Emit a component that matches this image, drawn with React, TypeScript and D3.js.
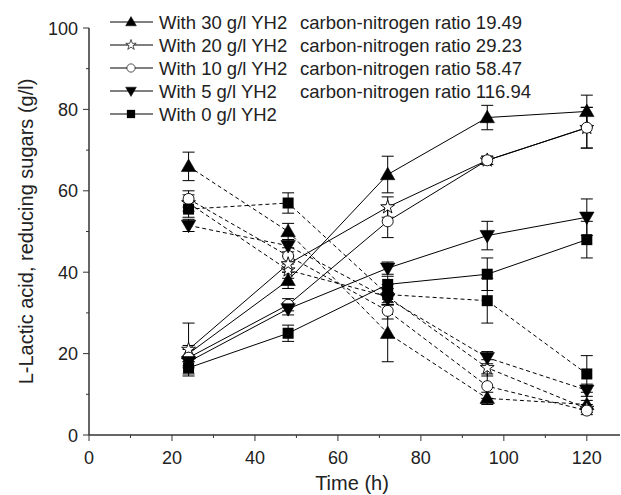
import React from "react";
import * as d3 from "d3";

const times = [24, 48, 72, 96, 120];
const seriesNames = [
  "With 30 g/l YH2",
  "With 20 g/l YH2",
  "With 10 g/l YH2",
  "With 5 g/l YH2",
  "With 0 g/l YH2",
];
const ratioLabels = [
  "carbon-nitrogen ratio 19.49",
  "carbon-nitrogen ratio 29.23",
  "carbon-nitrogen ratio 58.47",
  "carbon-nitrogen ratio 116.94",
  "",
];
const markerTypes = ["triUp", "star", "circle", "triDown", "square"];

// L-lactic acid (solid lines)
const lactic30 = [20, 38, 64, 78, 79.5];
const lactic20 = [21, 42, 56, 67.5, 75.5];
const lactic10 = [19, 32, 52.5, 67.5, 75.5];
const lactic5 = [18, 31, 41, 49, 53.5];
const lactic0 = [16.5, 25, 37, 39.5, 48];
const lacticErr30 = [2, 2, 4.5, 3, 4];
const lacticErr20 = [6.5, 2, 2.5, 1, 5];
const lacticErr10 = [2, 1.5, 4, 1, 5];
const lacticErr5 = [1.5, 1.5, 1.5, 3.5, 4.5];
const lacticErr0 = [1.5, 2, 2, 4, 4.5];

// Reducing sugars (dashed lines)
const sugar30 = [66, 50, 25, 9, 7.5];
const sugar20 = [57, 40.5, 34, 16.5, 6.5];
const sugar10 = [58, 44, 30.5, 12, 6];
const sugar5 = [51.5, 46.5, 33.5, 19, 11];
const sugar0 = [55.5, 57, 34.5, 33, 15];
const sugarErr30 = [3.5, 2, 7, 1.5, 1];
const sugarErr20 = [2, 2, 2, 2, 1];
const sugarErr10 = [2, 2, 2, 3, 1];
const sugarErr5 = [1.5, 1.5, 1.5, 1.5, 1.5];
const sugarErr0 = [2, 2.5, 2.5, 5.5, 4.5];

const xTicks = [0, 20, 40, 60, 80, 100, 120];
const yTicks = [0, 20, 40, 60, 80, 100];

const lacticAll = [lactic30, lactic20, lactic10, lactic5, lactic0];
const lacticErrAll = [lacticErr30, lacticErr20, lacticErr10, lacticErr5, lacticErr0];
const sugarAll = [sugar30, sugar20, sugar10, sugar5, sugar0];
const sugarErrAll = [sugarErr30, sugarErr20, sugarErr10, sugarErr5, sugarErr0];

const W = 621;
const H = 495;
const FONT = "'Liberation Sans', Arial, Helvetica, sans-serif";

function Marker({ type, cx, cy }: { type: string; cx: number; cy: number }) {
  if (type === "triUp") {
    const p = d3.symbol(d3.symbolTriangle, 90)();
    return <path d={p as string} transform={`translate(${cx},${cy + 1})`} fill="#000" stroke="#000" strokeWidth={0.6} />;
  }
  if (type === "triDown") {
    const p = d3.symbol(d3.symbolTriangle, 90)();
    return <path d={p as string} transform={`translate(${cx},${cy - 1}) rotate(180)`} fill="#000" stroke="#000" strokeWidth={0.6} />;
  }
  if (type === "star") {
    const p = d3.symbol(d3.symbolStar, 60)();
    return <path d={p as string} transform={`translate(${cx},${cy})`} fill="#fff" stroke="#000" strokeWidth={0.9} />;
  }
  if (type === "circle") {
    return <circle cx={cx} cy={cy} r={5.5} fill="#fff" stroke="#000" strokeWidth={0.9} />;
  }
  return <rect x={cx - 5.5} y={cy - 5.5} width={11} height={11} fill="#000" />;
}

export default function App() {
  const margin = { left: 89, top: 28, bottom: 435, right: 620 };
  const x = d3.scaleLinear().domain([0, 128]).range([margin.left, margin.right]);
  const y = d3.scaleLinear().domain([0, 100]).range([margin.bottom, margin.top]);
  const line = d3
    .line<number>()
    .x((_, i) => x(times[i]))
    .y((d) => y(d));

  const xMinor = d3.range(10, 128, 20);
  const yMinor = d3.range(10, 100, 20);

  const renderSeries = (vals: number[], errs: number[], k: number, dashed: boolean) => (
    <g key={(dashed ? "s" : "l") + k}>
      <path d={line(vals) as string} fill="none" stroke="#000" strokeWidth={1} strokeDasharray={dashed ? "4,3" : undefined} />
      {vals.map((v, i) => (
        <g key={i} stroke="#000" strokeWidth={1}>
          <line x1={x(times[i])} x2={x(times[i])} y1={y(v - errs[i])} y2={y(v + errs[i])} />
          <line x1={x(times[i]) - 6} x2={x(times[i]) + 6} y1={y(v + errs[i])} y2={y(v + errs[i])} />
          <line x1={x(times[i]) - 6} x2={x(times[i]) + 6} y1={y(v - errs[i])} y2={y(v - errs[i])} />
        </g>
      ))}
    </g>
  );

  const renderMarkers = (vals: number[], k: number, pre: string) =>
    vals.map((v, i) => <Marker key={pre + k + "-" + i} type={markerTypes[k]} cx={x(times[i])} cy={y(v)} />);

  return (
    <svg width={W} height={H} style={{ display: "block", position: "absolute", left: 0, top: 0 }} fontFamily={FONT}>
      <rect width={W} height={H} fill="#fff" />
      {/* axes */}
      <line x1={margin.left} x2={margin.right} y1={margin.bottom} y2={margin.bottom} stroke="#333" strokeWidth={1.5} />
      <line x1={margin.left} x2={margin.left} y1={margin.bottom} y2={margin.top} stroke="#333" strokeWidth={1.5} />
      {xTicks.map((t) => (
        <g key={"xt" + t}>
          <line x1={x(t)} x2={x(t)} y1={margin.bottom} y2={margin.bottom + 6} stroke="#333" strokeWidth={1} />
          <text x={x(t)} y={margin.bottom + 29} textAnchor="middle" fontSize={18} fill="#222">
            {t}
          </text>
        </g>
      ))}
      {xMinor.map((t) => (
        <line key={"xm" + t} x1={x(t)} x2={x(t)} y1={margin.bottom} y2={margin.bottom + 3} stroke="#333" strokeWidth={1} />
      ))}
      {yTicks.map((t) => (
        <g key={"yt" + t}>
          <line x1={margin.left - 6} x2={margin.left} y1={y(t)} y2={y(t)} stroke="#333" strokeWidth={1} />
          <text x={margin.left - 11} y={y(t) + 6.5} textAnchor="end" fontSize={18} fill="#222">
            {t}
          </text>
        </g>
      ))}
      {yMinor.map((t) => (
        <line key={"ym" + t} x1={margin.left - 3} x2={margin.left} y1={y(t)} y2={y(t)} stroke="#333" strokeWidth={1} />
      ))}
      <text x={352} y={490} textAnchor="middle" fontSize={20} fill="#222">
        Time (h)
      </text>
      <text transform={`translate(33,${(margin.top + margin.bottom) / 2}) rotate(-90)`} textAnchor="middle" fontSize={20} fill="#222">
        L-Lactic acid, reducing sugars (g/l)
      </text>

      {/* lines + error bars */}
      {sugarAll.map((v, k) => renderSeries(v, sugarErrAll[k], k, true))}
      {lacticAll.map((v, k) => renderSeries(v, lacticErrAll[k], k, false))}
      {sugarAll.map((v, k) => renderMarkers(v, k, "s"))}
      {lacticAll.map((v, k) => renderMarkers(v, k, "l"))}

      {/* legend */}
      {seriesNames.map((n, k) => {
        const ly = 22 + k * 23;
        return (
          <g key={"lg" + k}>
            <line x1={110} x2={153} y1={ly} y2={ly} stroke="#000" strokeWidth={1} />
            <g transform={`translate(131,${ly}) scale(0.75) translate(-131,${-ly})`}>
              <Marker type={markerTypes[k]} cx={131} cy={ly} />
            </g>
            <text x={159} y={ly + 6.5} fontSize={18.5} fill="#222">
              {n}
            </text>
            <text x={300} y={ly + 6.5} fontSize={18.5} fill="#222">
              {ratioLabels[k]}
            </text>
          </g>
        );
      })}
    </svg>
  );
}
